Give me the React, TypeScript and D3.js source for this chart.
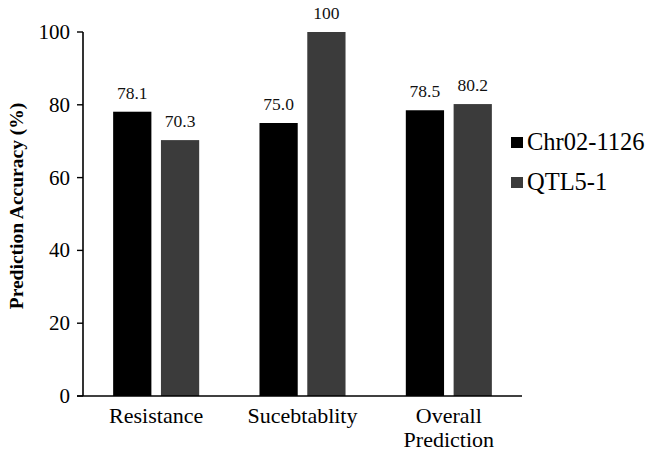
import React from "react";
import * as d3 from "d3";

const categories: string[][] = [["Resistance"], ["Sucebtablity"], ["Overall", "Prediction"]];
const categoryKeys = ["Resistance", "Sucebtablity", "Overall Prediction"];
const seriesNames = ["Chr02-1126", "QTL5-1"];
const chrValues = [78.1, 75.0, 78.5];
const qtlValues = [70.3, 100, 80.2];
const valueLabels = [["78.1", "70.3"], ["75.0", "100"], ["78.5", "80.2"]];
const yTicks = [0, 20, 40, 60, 80, 100];
const colors = ["#000000", "#3b3b3b"];

export default function App() {
  const W = 650, H = 453;
  const left = 83, right = 522, top = 32, bottom = 396;
  const font = "Liberation Serif";

  const y = d3.scaleLinear().domain([0, 100]).range([bottom, top]);
  const x0 = d3.scaleBand<string>().domain(categoryKeys).range([left, right]).paddingInner(0.412).paddingOuter(0.206);
  const x1 = d3.scaleBand<string>().domain(seriesNames).range([0, x0.bandwidth()]).paddingInner(0.2);
  const series = [chrValues, qtlValues];

  return (
    <svg width={W} height={H} style={{ position: "absolute", left: 0, top: 0, background: "#fff" }} fontFamily={font}>
      {categoryKeys.map((c, ci) =>
        seriesNames.map((s, si) => {
          const v = series[si][ci];
          const bx = (x0(c) as number) + (x1(s) as number);
          return (
            <g key={c + s}>
              <rect x={bx} y={y(v)} width={x1.bandwidth()} height={bottom - y(v)} fill={colors[si]} />
              <text x={bx + x1.bandwidth() / 2} y={y(v) - 13} textAnchor="middle" fontFamily={font} fontSize={17.5} fill="#111">
                {valueLabels[ci][si]}
              </text>
            </g>
          );
        })
      )}
      <line x1={left} x2={left} y1={top} y2={bottom} stroke="#000" strokeWidth={1.6} />
      <line x1={left - 6} x2={right} y1={bottom} y2={bottom} stroke="#000" strokeWidth={1.6} />
      {yTicks.map((t) => (
        <g key={t}>
          <line x1={left - 6} x2={left} y1={y(t)} y2={y(t)} stroke="#000" strokeWidth={1.4} />
          <text x={left - 13} y={y(t) + 7} textAnchor="end" fontFamily={font} fontSize={21} fill="#000">
            {t}
          </text>
        </g>
      ))}
      {categoryKeys.map((c, ci) => {
        const cx = (x0(c) as number) + x0.bandwidth() / 2;
        return categories[ci].map((line, li) => (
          <text key={c + li} x={cx} y={423 + li * 24} textAnchor="middle" fontFamily={font} fontSize={22} fill="#000">
            {line}
          </text>
        ));
      })}
      <text
        transform={`translate(23, ${(top + bottom) / 2 - 8}) rotate(-90)`}
        textAnchor="middle"
        fontFamily={font}
        fontSize={19.5}
        fontWeight="bold"
        fill="#000"
      >
        Prediction Accuracy (%)
      </text>
      {seriesNames.map((s, si) => (
        <g key={s}>
          <rect x={511} y={137 + si * 40} width={12} height={11} fill={colors[si]} />
          <text x={527} y={150 + si * 40} fontFamily={font} fontSize={24.5} fill="#000">
            {s}
          </text>
        </g>
      ))}
    </svg>
  );
}
